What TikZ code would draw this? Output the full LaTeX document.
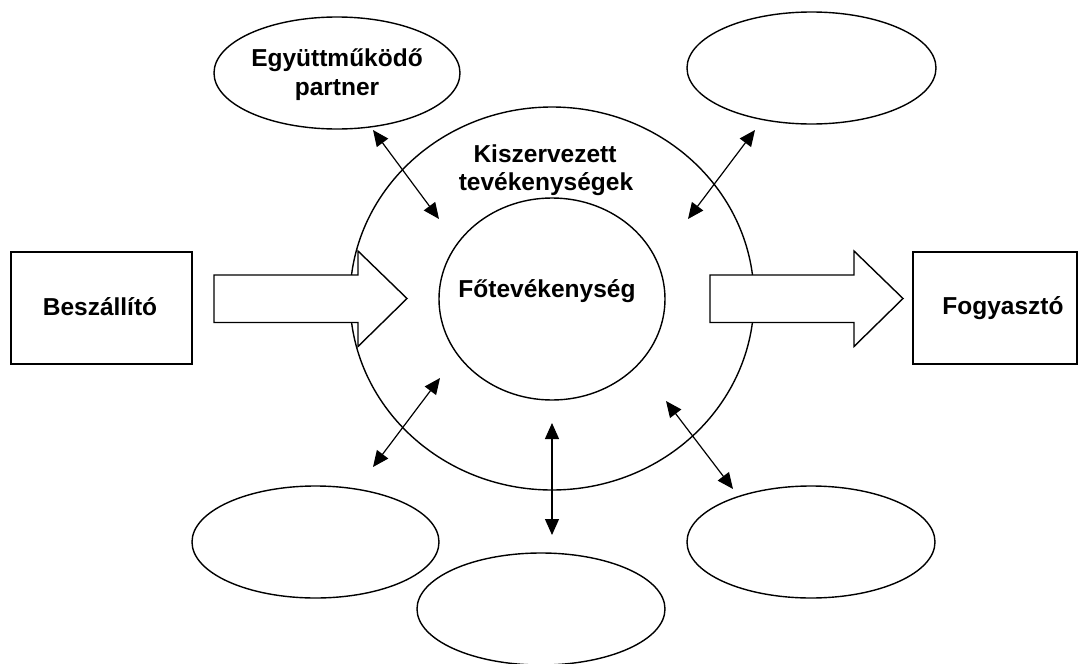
\documentclass[tikz,border=0pt]{standalone}
\usepackage{fontspec}
\setmainfont{Liberation Sans}
\usetikzlibrary{arrows.meta,shapes.geometric}

\begin{document}
\begin{tikzpicture}[x=1pt,y=-1pt,line width=1.4pt,
  lbl/.style={font=\fontsize{24.5}{29}\selectfont\bfseries,anchor=base,inner sep=0pt},
  oval/.style={draw,ellipse,inner sep=0pt,outer sep=0pt},
  sidebox/.style={draw,rectangle,inner sep=0pt,minimum height=112pt},
  dbl/.style={{Triangle[length=16pt,width=14pt]}-{Triangle[length=16pt,width=14pt]},line width=1.2pt},
  blockarrow/.style={draw,fill=white,line join=miter}]

% canvas
\fill[white] (0,0) rectangle (1080,664);
\useasboundingbox (0,0) rectangle (1080,664);

% outer ring of outsourced activities
\node[oval,minimum width=404pt,minimum height=383pt] (outer) at (552,298.5) {};

% supplier and customer boxes
\node[sidebox,minimum width=181pt] (supplier) at (101.5,308) {};
\node[sidebox,minimum width=164pt] (customer) at (995,308) {};

% broad flow arrows
\coordinate (inL) at (214,298.5);
\coordinate (inR) at (407,298.5);
\coordinate (outL) at (710,298.5);
\coordinate (outR) at (903,298.5);
\draw[blockarrow] (inL) ++(0,-23.5) -- ++(144,0) -- ++(0,-24) -- (inR)
  -- ++(-49,48) -- ++(0,-24) -- ++(-144,0) -- cycle;
\draw[blockarrow] (outL) ++(0,-23.5) -- ++(144,0) -- ++(0,-24) -- (outR)
  -- ++(-49,48) -- ++(0,-24) -- ++(-144,0) -- cycle;

% core activity
\node[oval,minimum width=226pt,minimum height=202pt] (core) at (552,299) {};

% partner ellipses
\node[oval,minimum width=246pt,minimum height=112pt] (pTL) at (337,73) {};
\node[oval,minimum width=249pt,minimum height=112pt] (pTR) at (811.5,68) {};
\node[oval,minimum width=247pt,minimum height=112pt] (pBL) at (315.5,542) {};
\node[oval,minimum width=248pt,minimum height=112pt] (pBC) at (541,609) {};
\node[oval,minimum width=248pt,minimum height=112pt] (pBR) at (811,542) {};

% two-way links between partners and the core
\coordinate (aTL1) at (373,130);  \coordinate (aTL2) at (439,219);
\coordinate (aTR1) at (755,130);  \coordinate (aTR2) at (688,219);
\coordinate (aBL1) at (440,378);  \coordinate (aBL2) at (373,467);
\coordinate (aBC1) at (552,423);  \coordinate (aBC2) at (552,535);
\coordinate (aBR1) at (666,401);  \coordinate (aBR2) at (733,489);
\draw[dbl] (aTL1) -- (aTL2);
\draw[dbl] (aTR1) -- (aTR2);
\draw[dbl] (aBL1) -- (aBL2);
\draw[dbl] (aBC1) -- (aBC2);
\draw[dbl] (aBR1) -- (aBR2);

% labels
\node[lbl] (tPartner1) at (337,66) {Együttműködő};
\node[lbl] (tPartner2) at (337,95) {partner};
\node[lbl] (tOuter1) at (545,162) {Kiszervezett};
\node[lbl] (tOuter2) at (546,190) {tevékenységek};
\node[lbl] (tCore) at (547,297) {Főtevékenység};
\node[lbl] (tSupplier) at (100,315) {Beszállító};
\node[lbl] (tCustomer) at (1003,314) {Fogyasztó};
\end{tikzpicture}
\end{document}
